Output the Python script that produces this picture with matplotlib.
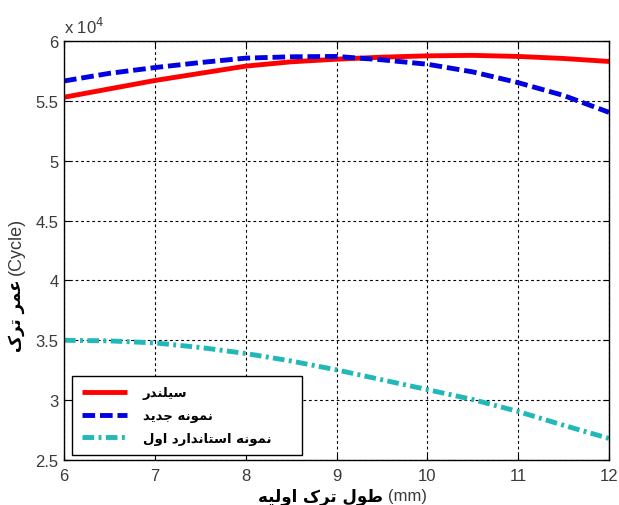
import matplotlib
matplotlib.use("Agg")
import matplotlib.pyplot as plt
from matplotlib import font_manager
import numpy as np

# ---------------- data ----------------
crack_length = [6, 6.5, 7, 7.5, 8, 8.5, 9, 9.5, 10, 10.5, 11, 11.5, 12]
cylinder = [5.53, 5.60, 5.67, 5.73, 5.79, 5.826, 5.848, 5.865, 5.876, 5.88, 5.871, 5.854, 5.829]
new_sample = [5.666, 5.73, 5.778, 5.82, 5.857, 5.868, 5.871, 5.843, 5.806, 5.742, 5.652, 5.545, 5.404]
standard_1 = [3.50, 3.495, 3.478, 3.44, 3.39, 3.327, 3.253, 3.17, 3.088, 3.005, 2.905, 2.79, 2.68]
series_labels = ["سیلندر", "نمونه جدید", "نمونه استاندارد اول"]
x_ticks = [6, 7, 8, 9, 10, 11, 12]
y_ticks = [2.5, 3, 3.5, 4, 4.5, 5, 5.5, 6]
y_tick_labels = ["2.5", "3", "3.5", "4", "4.5", "5", "5.5", "6"]
xlabel_fa = "طول ترک اولیه"
xlabel_unit = "(mm)"
ylabel_fa = "عمر ترک"
ylabel_unit = "(Cycle)"
scale_text = r"x 10$^{4}$"

# ------------- simple Arabic/Persian shaping (visual order) -------------
FORMS = {
    'ا': ('\uFE8D', '\uFE8E', None, None),
    'ت': ('\uFE95', '\uFE96', '\uFE97', '\uFE98'),
    'ج': ('\uFE9D', '\uFE9E', '\uFE9F', '\uFEA0'),
    'د': ('\uFEA9', '\uFEAA', None, None),
    'ر': ('\uFEAD', '\uFEAE', None, None),
    'س': ('\uFEB1', '\uFEB2', '\uFEB3', '\uFEB4'),
    'ط': ('\uFEC1', '\uFEC2', '\uFEC3', '\uFEC4'),
    'ع': ('\uFEC9', '\uFECA', '\uFECB', '\uFECC'),
    'ل': ('\uFEDD', '\uFEDE', '\uFEDF', '\uFEE0'),
    'م': ('\uFEE1', '\uFEE2', '\uFEE3', '\uFEE4'),
    'ن': ('\uFEE5', '\uFEE6', '\uFEE7', '\uFEE8'),
    'ه': ('\uFEE9', '\uFEEA', '\uFEEB', '\uFEEC'),
    'و': ('\uFEED', '\uFEEE', None, None),
    'ک': ('\uFB8E', '\uFB8F', '\uFB90', '\uFB91'),
    'ی': ('\uFBFC', '\uFBFD', '\uFBFE', '\uFBFF'),
}


def shape(text):
    out = []
    n = len(text)
    for i, ch in enumerate(text):
        if ch not in FORMS:
            out.append(ch)
            continue
        f = FORMS[ch]
        prev = text[i - 1] if i > 0 else None
        nxt = text[i + 1] if i < n - 1 else None
        join_prev = prev in FORMS and FORMS[prev][2] is not None
        join_next = f[2] is not None and nxt in FORMS
        if join_prev and join_next:
            out.append(f[3])
        elif join_prev:
            out.append(f[1])
        elif join_next:
            out.append(f[2])
        else:
            out.append(f[0])
    return "".join(reversed(out))


def pick_font(names):
    for nm in names:
        try:
            font_manager.findfont(nm, fallback_to_default=False)
            return nm
        except Exception:
            pass
    return "DejaVu Sans"


num_font = pick_font(["Liberation Sans Narrow", "Liberation Sans", "Arial"])
ar_font = ["DejaVu Sans"]
txt_grey = "#3a3a3a"

W, H = 619, 506
fig = plt.figure(figsize=(W / 100, H / 100), dpi=100)
ax = fig.add_axes([64 / W, (H - 461) / H, 545 / W, 419 / H])

lw = 3.5
l1, = ax.plot(crack_length, cylinder, color="#ff0000", lw=lw, solid_capstyle="butt")
l2, = ax.plot(crack_length, new_sample, color="#0000e0", lw=lw, dashes=(2.6, 1.0), dash_capstyle="butt")
l3, = ax.plot(crack_length, standard_1, color="#22b8b8", lw=lw, dashes=(2.4, 0.9, 0.6, 0.9), dash_capstyle="butt")

ax.set_xlim(6, 12)
ax.set_ylim(2.5, 6)
ax.set_xticks(x_ticks)
ax.set_xticklabels([str(t) for t in x_ticks])
ax.set_yticks(y_ticks)
ax.set_yticklabels(y_tick_labels)
ax.grid(True, color="black", lw=0.8, linestyle=(0, (2.5, 2.5)))
ax.set_axisbelow(True)
ax.tick_params(direction="in", length=4, width=0.8, top=True, right=True,
               labelsize=12, labelcolor=txt_grey)
ax.tick_params(axis="x", pad=6)
ax.tick_params(axis="y", pad=4)
for lab in ax.get_xticklabels() + ax.get_yticklabels():
    lab.set_family(num_font)
for sp in ax.spines.values():
    sp.set_linewidth(1.0)
    sp.set_color("black")

ax.text(0.0, 1.012, scale_text, transform=ax.transAxes, ha="left", va="bottom",
        fontsize=12, color=txt_grey, family=num_font)

leg = ax.legend([l1, l2, l3], [shape(s) for s in series_labels],
                loc="lower left", bbox_to_anchor=(0.0152, 0.012, 0.422, 0.18), mode="expand",
                frameon=True, fancybox=False, edgecolor="black", framealpha=1,
                handlelength=3.4, handletextpad=1.2, borderpad=0.75, labelspacing=0.75,
                borderaxespad=0, prop={"family": ar_font, "weight": "bold", "size": 9.5})
leg.get_frame().set_linewidth(1.0)

# x label: Arabic bold + unit normal
fig.text(383 / W, (H - 497) / H, shape(xlabel_fa), ha="right", va="center",
         family=ar_font, weight="bold", fontsize=12, color="black")
fig.text(388 / W, (H - 497) / H, xlabel_unit, ha="left", va="center",
         family=num_font, fontsize=12, color=txt_grey)

# y label (rotated): Arabic lower part, unit above
fig.text(16 / W, (H - 279) / H, shape(ylabel_fa), ha="center", va="top", rotation=90,
         family=ar_font, weight="bold", fontsize=12, color="black")
fig.text(16 / W, (H - 275) / H, ylabel_unit, ha="center", va="bottom", rotation=90,
         family=num_font, fontsize=13, color=txt_grey)

fig.savefig("out.png", dpi=100)
